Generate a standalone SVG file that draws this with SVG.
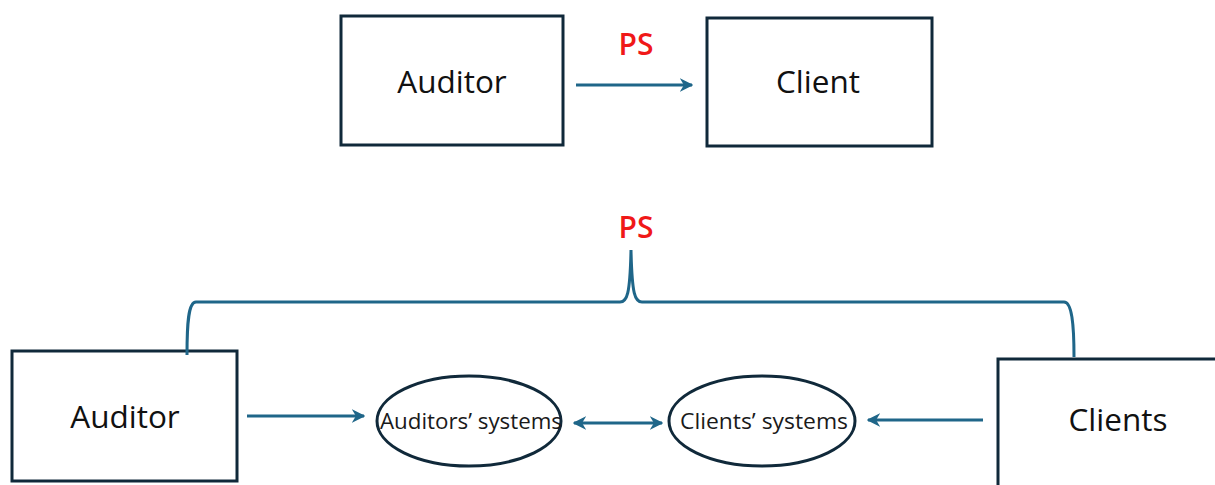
<svg xmlns="http://www.w3.org/2000/svg" width="1215" height="485" viewBox="0 0 1215 485">
<defs>
<style>
.box{fill:#fff;stroke:#10293a;stroke-width:3}
.ell{fill:#fff;stroke:#10293a;stroke-width:3}
.big{font-family:"Open Sans","Liberation Sans",sans-serif;font-size:31.5px;fill:#111;text-anchor:middle}
.small{font-family:"Open Sans","Liberation Sans",sans-serif;font-size:21.5px;fill:#1a1a1a;text-anchor:middle}
.ps{font-family:"Open Sans","Liberation Sans",sans-serif;font-size:30px;font-weight:600;fill:#f01818;text-anchor:middle}
.con{fill:none;stroke:#1f6689;stroke-width:3}
</style>
<marker id="ah" viewBox="0 0 10 10" refX="9" refY="5" markerWidth="4.5" markerHeight="4.5" orient="auto-start-reverse" markerUnits="strokeWidth">
<path d="M0,0 L10,5 L0,10 L3,5 Z" fill="#1f6689"/>
</marker>
</defs>
<rect width="1215" height="485" fill="#fff"/>
<g id="top-auditor"><rect class="box" x="341" y="16" width="222" height="129"/><text class="big" x="452" y="93">Auditor</text></g>
<g id="top-client"><rect class="box" x="707" y="18" width="225" height="128"/><text class="big" x="818" y="93">Client</text></g>
<g id="ps-top"><text class="ps" x="636" y="55">PS</text></g>
<g id="bottom-auditor"><rect class="box" x="12" y="351" width="225" height="130"/><text class="big" x="125" y="428">Auditor</text></g>
<g id="auditors-systems"><ellipse class="ell" cx="469" cy="421" rx="92" ry="45"/><text class="small" x="471" y="429" textLength="182" lengthAdjust="spacingAndGlyphs">Auditors’ systems</text></g>
<g id="clients-systems"><ellipse class="ell" cx="762" cy="421" rx="93" ry="45"/><text class="small" x="764" y="429" textLength="168" lengthAdjust="spacingAndGlyphs">Clients’ systems</text></g>
<g id="bottom-clients"><rect class="box" x="998" y="359" width="230" height="140"/><text class="big" x="1118" y="431">Clients</text></g>
<g id="ps-bottom"><text class="ps" x="636" y="238">PS</text></g>
<g id="connectors">
<path class="con" d="M576,85 H692" marker-end="url(#ah)"/>
<path class="con" d="M247,416 H364" marker-end="url(#ah)"/>
<path class="con" d="M574,423 H662" marker-start="url(#ah)" marker-end="url(#ah)"/>
<path class="con" d="M983,420 H868" marker-end="url(#ah)"/>
<path class="con" d="M187,355 C187,325 188,302 196,302 H620 C627,302 630,295 631,250 C632,295 635,302 642,302 H1064 C1072,302 1074,325 1074,357"/>
</g>
</svg>
